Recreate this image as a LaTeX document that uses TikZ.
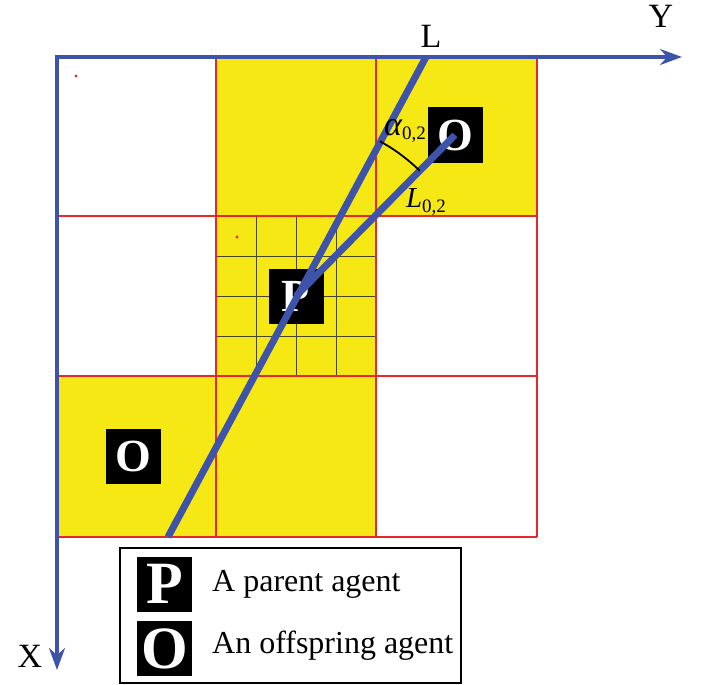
\documentclass[tikz,border=0pt]{standalone}
\usepackage{fontspec}
\setmainfont{Liberation Serif}
\usetikzlibrary{arrows.meta}
\definecolor{axblue}{RGB}{62,84,170}
\definecolor{cellyel}{RGB}{246,232,20}
\definecolor{cellred}{RGB}{232,40,40}
\definecolor{subgrid}{RGB}{70,70,40}
\tikzset{
  cellfill/.style={fill=cellyel},
  redline/.style={draw=cellred, line width=1.6pt},
  subline/.style={draw=subgrid, line width=0.8pt},
  axisline/.style={draw=axblue, line width=3.5pt, -{Stealth[length=22pt,width=16pt]}},
  bline/.style={draw=axblue, line width=7pt},
  agentbox/.style={fill=black, text=white, inner sep=0pt, minimum size=55pt, font=\bfseries\fontsize{46}{46}\selectfont},
  legbox/.style={fill=black, text=white, inner sep=0pt, minimum size=55pt, font=\bfseries\fontsize{60}{60}\selectfont},
  axlabel/.style={inner sep=0pt, font=\fontsize{34}{36}\selectfont},
  legtext/.style={inner sep=0pt, anchor=west, font=\fontsize{32}{36}\selectfont},
  reddot/.style={fill=cellred},
}
\begin{document}
\begin{tikzpicture}[x=1pt,y=-1pt]
\useasboundingbox (0,0) rectangle (702,685);
% yellow cells
\fill[cellfill] (216,57) rectangle (537,216);
\fill[cellfill] (216,216) rectangle (376,376);
\fill[cellfill] (57,376) rectangle (376,537);
% sub-grid of the parent cell
\foreach \v in {256,296,336} {
  \draw[subline] (\v,216) -- (\v,376);
  \draw[subline] (216,\v) -- (376,\v);
}
% red cell borders
\foreach \v in {216,376,537} {
  \draw[redline] (\v,57) -- (\v,537);
  \draw[redline] (57,\v) -- (537,\v);
}
% red dots
\fill[reddot] (76,76) circle[radius=1.6];
\fill[reddot] (237,237) circle[radius=1.6];
% axes
\draw[axisline] (55,57) -- (682,57);
\draw[axisline] (57,55) -- (57,670);
\node[axlabel] (ylab) at (661,16) {Y};
\node[axlabel] (xlab) at (30,656) {X};
\node[axlabel] (llab) at (431,36) {L};
% agents
\node[agentbox] (P) at (296,296) {P};
\node[agentbox] (O1) at (455,135) {O};
\node[agentbox] (O2) at (133,456) {O};
% lines
\coordinate (Lb) at (168,537);
\coordinate (Lt) at (426,57);
\draw[bline] (Lb) -- (Lt);
\draw[bline] (P.center) -- (O1.center);
% angle arc
\draw[black, line width=1.8pt] plot[domain=-61.5:-45.4, samples=30] ({296+176*cos(\x)}, {296+176*sin(\x)});
\node[inner sep=0pt, font=\fontsize{34}{36}\selectfont] (alab) at (405,131) {\itshape α\raisebox{-0.3ex}{\upshape\fontsize{19}{20}\selectfont 0,2}};
\node[inner sep=0pt, font=\fontsize{29}{30}\selectfont] (l02lab) at (426,202) {\itshape L\raisebox{-0.35ex}{\upshape\fontsize{19}{20}\selectfont 0,2}};
% legend
\node[draw=black, line width=1.5pt, minimum width=341pt, minimum height=135pt, inner sep=0pt] (legend) at (290.5,615.5) {};
\node[legbox] (lP) at (164.5,584) {P};
\node[legbox] (lO) at (164.5,648.5) {O};
\node[legtext] (tP) at (212,584) {A parent agent};
\node[legtext] (tO) at (212,646) {An offspring agent};
\end{tikzpicture}
\end{document}
